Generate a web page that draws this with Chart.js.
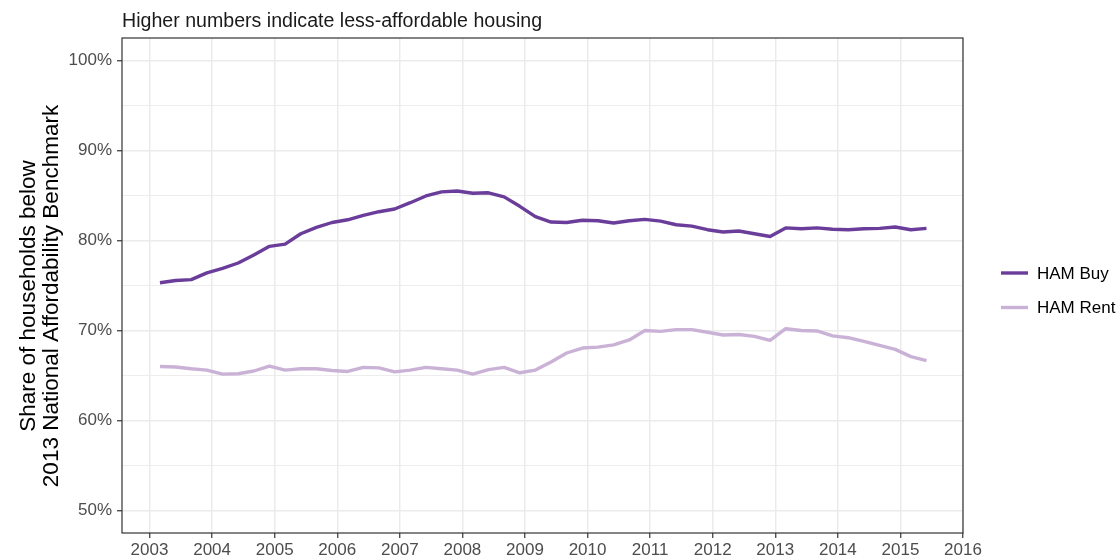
<!DOCTYPE html>
<html>
<head>
<meta charset="utf-8">
<script src="https://cdn.jsdelivr.net/npm/chart.js@4.4.1/dist/chart.umd.min.js"></script>
<style>
  html, body { margin: 0; padding: 0; background: #fff; }
  #wrap { width: 1120px; height: 560px; }
</style>
</head>
<body>
<div id="wrap"><canvas id="chart" width="1120" height="560"></canvas></div>
<script>
'use strict';

// quarterly observations, year-month
const quarters = [
  '2003-03','2003-06','2003-09','2003-12',
  '2004-03','2004-06','2004-09','2004-12',
  '2005-03','2005-06','2005-09','2005-12',
  '2006-03','2006-06','2006-09','2006-12',
  '2007-03','2007-06','2007-09','2007-12',
  '2008-03','2008-06','2008-09','2008-12',
  '2009-03','2009-06','2009-09','2009-12',
  '2010-03','2010-06','2010-09','2010-12',
  '2011-03','2011-06','2011-09','2011-12',
  '2012-03','2012-06','2012-09','2012-12',
  '2013-03','2013-06','2013-09','2013-12',
  '2014-03','2014-06','2014-09','2014-12',
  '2015-03','2015-06'
];

const hamBuy = [
  75.3, 75.55, 75.65, 76.4, 76.9, 77.5, 78.4, 79.35, 79.6, 80.75,
  81.45, 82.0, 82.3, 82.8, 83.2, 83.5, 84.2, 84.95, 85.4, 85.5,
  85.25, 85.3, 84.85, 83.8, 82.65, 82.05, 82.0, 82.25, 82.2, 81.95,
  82.2, 82.35, 82.15, 81.75, 81.6, 81.2, 80.95, 81.05, 80.75, 80.45,
  81.4, 81.3, 81.4, 81.25, 81.2, 81.3, 81.35, 81.5, 81.2, 81.35
];

const hamRent = [
  66.0, 65.95, 65.75, 65.6, 65.15, 65.2, 65.5, 66.05, 65.6, 65.75,
  65.75, 65.55, 65.45, 65.9, 65.85, 65.4, 65.6, 65.9, 65.75, 65.6,
  65.15, 65.65, 65.9, 65.3, 65.6, 66.5, 67.5, 68.05, 68.15, 68.4,
  68.95, 70.0, 69.9, 70.1, 70.1, 69.8, 69.5, 69.55, 69.35, 68.9,
  70.2, 70.0, 69.95, 69.4, 69.2, 68.8, 68.35, 67.9, 67.1, 66.65
];

const yearTicks = [2003, 2004, 2005, 2006, 2007, 2008, 2009, 2010, 2011, 2012, 2013, 2014, 2015, 2016];
const pctTicks = [50, 55, 60, 65, 70, 75, 80, 85, 90, 95, 100];

const seriesNames = ['HAM Buy', 'HAM Rent'];
const seriesColors = ['#6a3d9a', '#cab2d6'];

const FONT = '"Liberation Sans", Arial, Helvetica, sans-serif';

function toYear(q) {
  const [y, m] = q.split('-').map(Number);
  return y + (m - 1) / 12;
}

function points(values) {
  return values.map((v, i) => ({ x: toYear(quarters[i]), y: v }));
}

const decorations = {
  id: 'decorations',
  afterDraw(chart) {
    const { ctx, chartArea: a } = chart;
    ctx.save();

    // panel border
    ctx.strokeStyle = '#333333';
    ctx.lineWidth = 1.2;
    ctx.strokeRect(a.left, a.top, a.right - a.left, a.bottom - a.top);

    // subtitle
    ctx.fillStyle = '#1a1a1a';
    ctx.font = `19.6px ${FONT}`;
    ctx.textAlign = 'left';
    ctx.textBaseline = 'alphabetic';
    ctx.fillText('Higher numbers indicate less-affordable housing', a.left, 27);

    // y axis title, two lines
    ctx.save();
    ctx.translate(0, 296);
    ctx.rotate(-Math.PI / 2);
    ctx.font = `22.5px ${FONT}`;
    ctx.textAlign = 'center';
    ctx.fillStyle = '#000000';
    ctx.fillText('Share of households below', 0, 35);
    ctx.fillText('2013 National Affordability Benchmark', 0, 58);
    ctx.restore();

    // legend
    const rows = [273, 307.5];
    ctx.font = `17px ${FONT}`;
    ctx.textBaseline = 'middle';
    ctx.textAlign = 'left';
    seriesNames.forEach((name, i) => {
      ctx.strokeStyle = seriesColors[i];
      ctx.lineWidth = 3.4;
      ctx.beginPath();
      ctx.moveTo(1001, rows[i]);
      ctx.lineTo(1028, rows[i]);
      ctx.stroke();
      ctx.fillStyle = '#000000';
      ctx.fillText(name, 1037, rows[i] + 1);
    });

    ctx.restore();
  }
};

new Chart(document.getElementById('chart'), {
  type: 'line',
  data: {
    datasets: seriesNames.map((name, i) => ({
      label: name,
      data: points(i === 0 ? hamBuy : hamRent),
      borderColor: seriesColors[i],
      backgroundColor: seriesColors[i],
      borderWidth: 3.4,
      pointRadius: 0,
      tension: 0,
      borderJoinStyle: 'round',
      order: i === 0 ? 0 : 1,
    })),
  },
  options: {
    responsive: false,
    animation: false,
    layout: { padding: { left: 0, top: 38, right: 157, bottom: 0 } },
    plugins: {
      legend: { display: false },
      title: { display: false },
      tooltip: { enabled: false },
    },
    scales: {
      x: {
        type: 'linear',
        min: 2002.56,
        max: 2016.0,
        afterBuildTicks: s => { s.ticks = yearTicks.map(v => ({ value: v })); },
        afterFit: s => { s.height = 27; },
        ticks: {
          color: '#4d4d4d',
          padding: 2,
          maxRotation: 0,
          autoSkip: false,
          font: { family: FONT, size: 17 },
          callback: v => String(v),
        },
        grid: {
          color: '#ebebeb',
          lineWidth: 1.5,
          tickLength: 5,
          tickColor: '#333333',
          tickWidth: 1.2,
        },
        border: { display: false },
      },
      y: {
        min: 47.5,
        max: 102.5,
        afterBuildTicks: s => { s.ticks = pctTicks.map(v => ({ value: v })); },
        afterFit: s => { s.width = 122; },
        ticks: {
          color: '#4d4d4d',
          padding: 5,
          autoSkip: false,
          font: { family: FONT, size: 17 },
          callback: v => (v % 10 === 0 ? v + '%' : ''),
        },
        grid: {
          color: '#ebebeb',
          lineWidth: c => (c.tick && c.tick.value % 10 === 0 ? 1.5 : 0.9),
          tickLength: 5,
          tickColor: c => (c.tick && c.tick.value % 10 === 0 ? '#333333' : 'rgba(0,0,0,0)'),
          tickWidth: 1.2,
        },
        border: { display: false },
      },
    },
  },
  plugins: [decorations],
});
</script>
</body>
</html>
